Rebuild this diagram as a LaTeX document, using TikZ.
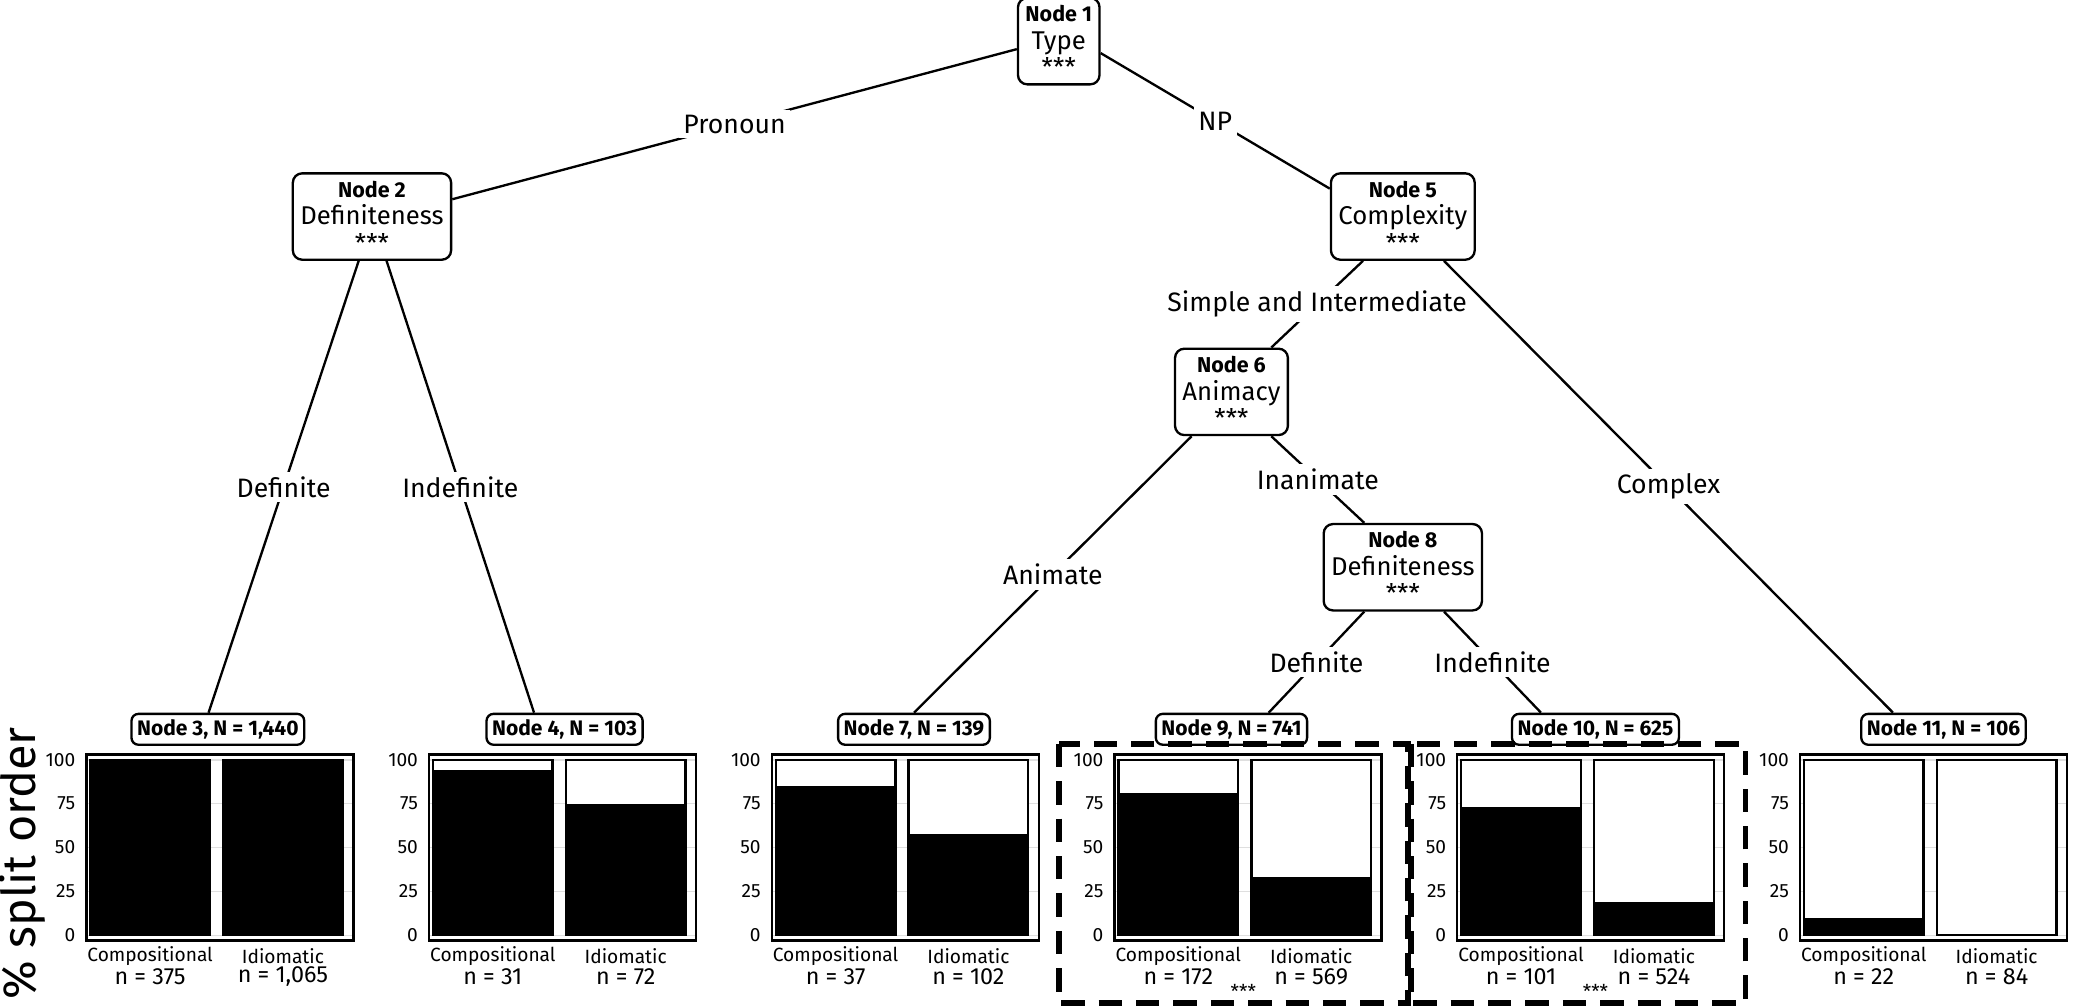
\documentclass[tikz,border=0pt]{standalone}
\usepackage{fontspec}
\setmainfont{Fira Sans}
\usetikzlibrary{calc}
\tikzset{
  inner/.style={draw, rounded corners=2pt, fill=white, align=center, inner sep=1.6pt, font=\fontsize{5.5}{5.9}\selectfont},
  term/.style={draw, rounded corners=1.5pt, inner sep=1.2pt, font=\fontsize{4.5}{4.5}\selectfont\bfseries},
  elab/.style={fill=white, inner sep=1pt, font=\fontsize{5.7}{6.5}\selectfont},
  tick/.style={font=\fontsize{4.1}{4.5}\selectfont},
}
\newcommand{\nodehead}[1]{{\fontsize{4.6}{5}\selectfont\bfseries #1}}
\begin{document}
\begin{tikzpicture}[x=0.01cm, y=-0.01cm, line width=0.5pt]
\useasboundingbox (0,0) rectangle (1568,758);
% inner nodes
\node[inner] (n1) at (797,31)  {\nodehead{Node 1}\\Type\\***};
\node[inner] (n2) at (280,163) {\nodehead{Node 2}\\Definiteness\\***};
\node[inner] (n5) at (1056,163) {\nodehead{Node 5}\\Complexity\\***};
\node[inner] (n6) at (927,295) {\nodehead{Node 6}\\Animacy\\***};
\node[inner] (n8) at (1056,427) {\nodehead{Node 8}\\Definiteness\\***};
% terminal nodes
\node[term] (n3)  at (164,549)  {Node 3, N = 1,440};
\node[term] (n4)  at (425,549)  {Node 4, N = 103};
\node[term] (n7)  at (688,549)  {Node 7, N = 139};
\node[term] (n9)  at (927,549)  {Node 9, N = 741};
\node[term] (n10) at (1201,549) {Node 10, N = 625};
\node[term] (n11) at (1463,549) {Node 11, N = 106};
% edges
\draw (n1.west |- 0,37) -- node[elab] {Pronoun} (n2.east |- 0,150);
\draw (n1.east |- 0,40) -- node[elab] {NP} (n5.west |- 0,142);
\draw (270,0 |- n2.south) -- node[elab] {Definite} (157,0 |- n3.north);
\draw (291,0 |- n2.south) -- node[elab] {Indefinite} (402,0 |- n4.north);
\draw (1026,0 |- n5.south) -- node[elab] {Simple and Intermediate} (957,0 |- n6.north);
\draw (1087,0 |- n5.south) -- node[elab] {Complex} (1425,0 |- n11.north);
\draw (897,0 |- n6.south) -- node[elab] {Animate} (688,0 |- n7.north);
\draw (957,0 |- n6.south) -- node[elab] {Inanimate} (1027,0 |- n8.north);
\draw (1027,0 |- n8.south) -- node[elab] {Definite} (955,0 |- n9.north);
\draw (1087,0 |- n8.south) -- node[elab] {Indefinite} (1160,0 |- n10.north);
% bar panels
\foreach \i/\a/\b/\na/\nb in {0/100/100/375/{1,065}, 1/94/75/31/72, 2/85/58/37/102,
    3/81/33/172/569, 4/73/19/101/524, 5/10/0/22/84} {
  \pgfmathsetmacro{\xo}{65+258*\i}
  \foreach \t [count=\k from 0] in {100,75,50,25,0} {
    \draw[gray!25, line width=0.3pt] (\xo,572+33*\k) -- (\xo+201,572+33*\k);
    \node[tick, anchor=east, inner sep=1pt] at (\xo-4,572+33*\k) {\t};
  }
  \draw[fill=white] (\xo+3,704) rectangle (\xo+93,572);
  \draw[fill=white] (\xo+103,704) rectangle (\xo+193,572);
  \fill (\xo+3,704) rectangle (\xo+93,704-1.32*\a);
  \fill (\xo+103,704) rectangle (\xo+193,704-1.32*\b);
  \draw (\xo,568) rectangle (\xo+201,708);
  \node[tick] at (\xo+48,720) {Compositional};
  \node[font=\fontsize{5}{5.5}\selectfont] at (\xo+48,735) {n = \na};
  \node[tick] at (\xo+148,720) {Idiomatic};
  \node[font=\fontsize{5}{5.5}\selectfont] at (\xo+148,735) {n = \nb};
}
% highlighted splits
\draw[line width=1.2pt, dash pattern=on 5pt off 3pt] (797,560) rectangle (1060,755);
\draw[line width=1.2pt, dash pattern=on 5pt off 3pt] (1062,560) rectangle (1314,755);
\node[tick] at (936,746) {***};
\node[tick] at (1201,746) {***};
\node[rotate=90, font=\fontsize{10}{10}\selectfont] at (17,650) {\% split order};
\end{tikzpicture}
\end{document}
